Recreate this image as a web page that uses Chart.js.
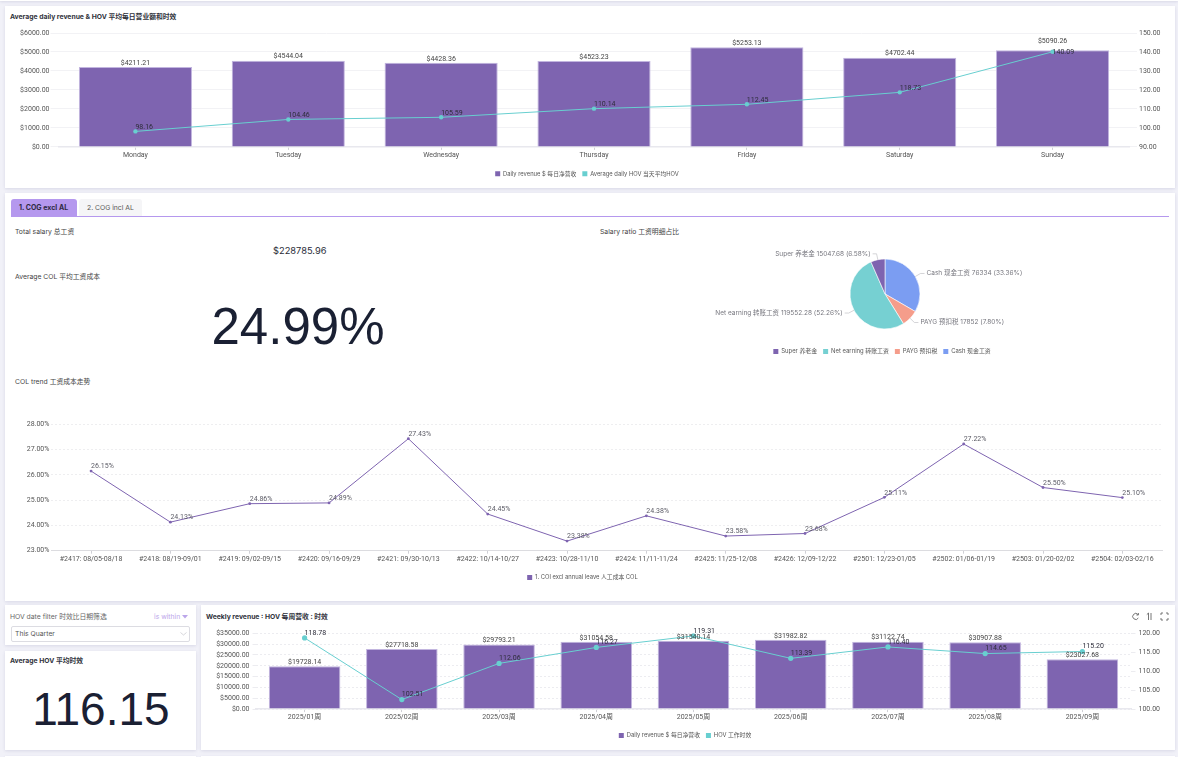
<!DOCTYPE html>
<html lang="en"><head><meta charset="utf-8"><title>Dashboard</title>
<script src="https://cdn.jsdelivr.net/npm/chart.js@4"></script>
<style>
html,body{margin:0;padding:0;width:1178px;height:757px;overflow:hidden;background:#f1f1f8;font-family:Inter,"Noto Sans CJK SC",sans-serif;color:#444}
.p{position:absolute;background:#fff;box-shadow:0 1px 3px rgba(90,90,140,.16)}
.t{position:absolute;white-space:nowrap;font-size:6.8px;line-height:10px}
.b{font-weight:700;color:#30323c}
.big{position:absolute;font-family:"Liberation Sans",sans-serif;color:#1a2033;white-space:nowrap;transform:translate(-50%,-50%);line-height:1}
canvas{position:absolute;display:block}
</style></head><body>
<div class="p" style="left:0;top:-8px;width:1178px;height:9px"></div>
<div class="p" style="left:5px;top:6px;width:1170px;height:182px"></div>
<div class="p" style="left:5px;top:193px;width:1170px;height:408px"></div>
<div class="p" style="left:5px;top:605px;width:191px;height:40px"></div>
<div class="p" style="left:5px;top:651px;width:191px;height:99px"></div>
<div class="p" style="left:201px;top:605px;width:974px;height:145px"></div>
<div class="p" style="left:5px;top:756px;width:191px;height:6px"></div>
<div class="p" style="left:201px;top:756px;width:974px;height:6px"></div>

<div class="t b" style="left:10px;top:12px">Average daily revenue &amp; HOV 平均每日营业额和时效</div>

<div style="position:absolute;left:11px;top:199px;width:66px;height:17px;background:#b598ee;border-radius:3px 3px 0 0"></div>
<div class="t b" style="left:19px;top:203px;font-size:7px;color:#2e2a44">1. COG excl AL</div>
<div style="position:absolute;left:79px;top:199px;width:63px;height:17px;background:#f5f5f7;border-radius:3px 3px 0 0"></div>
<div class="t" style="left:87px;top:203px;color:#555">2. COG incl AL</div>
<div style="position:absolute;left:11px;top:216px;width:1158px;height:1px;background:#b598ee"></div>

<div class="t" style="left:15px;top:227px">Total salary 总工资</div>
<div class="t" style="left:273px;top:244px;font-size:9.3px;line-height:13px;color:#2a2c38">$228785.96</div>
<div class="t" style="left:15px;top:272px">Average COL 平均工资成本</div>
<div class="big" style="left:298px;top:326px;font-size:51px">24.99%</div>
<div class="t" style="left:600px;top:227px">Salary ratio 工资明细占比</div>
<div class="t" style="left:15px;top:377px">COL trend 工资成本走势</div>

<div class="t" style="left:10px;top:612px;color:#666">HOV date filter 时效比日期筛选</div>
<div class="t" style="left:154px;top:612px;color:#bba6ea">is within</div>
<svg style="position:absolute;left:182px;top:615px" width="6" height="4"><path d="M0 0H6L3 3.5Z" fill="#bba6ea"/></svg>
<div style="position:absolute;left:11px;top:626px;width:177px;height:14px;border:1px solid #dcdce2;border-radius:2px"></div>
<div class="t" style="left:15px;top:629px;color:#555">This Quarter</div>
<svg style="position:absolute;left:180px;top:632px" width="7" height="4"><path d="M.5 .5L3.5 3L6.5 .5" fill="none" stroke="#c4c4cc" stroke-width=".7"/></svg>
<div class="t b" style="left:10px;top:656px">Average HOV 平均时效</div>
<div class="big" style="left:101px;top:709px;font-size:46px">116.15</div>
<div class="t b" style="left:206px;top:612px">Weekly revenue : HOV 每周营收 : 时效</div>
<svg style="position:absolute;left:1131px;top:612px" width="40" height="9" fill="none" stroke="#666" stroke-width=".9">
<path d="M7 2.5A3 3 0 1 0 7.3 6M7.4 1V3H5.4"/><path d="M17.5 8V1L15.8 2.6M20 1V8"/><path d="M30 3V1H32M35 1H37V3M37 6V8H35M32 8H30V6"/></svg>

<canvas id="dailyChart" width="1170" height="182" style="left:5px;top:6px"></canvas>
<canvas id="pieChart" width="370" height="140" style="left:700px;top:225px"></canvas>
<canvas id="colChart" width="1170" height="200" style="left:5px;top:400px"></canvas>
<canvas id="weeklyChart" width="974" height="145" style="left:201px;top:605px"></canvas>

<script>
// ---- data ----
const dayLabels = ['Monday','Tuesday','Wednesday','Thursday','Friday','Saturday','Sunday'];
const dayRevenue = [4211.21,4544.04,4428.36,4523.23,5253.13,4702.44,5090.26];
const dayHov = [98.16,104.46,105.59,110.14,112.45,118.73,140.09];

const pieLabels = ['Cash 现金工资','PAYG 预扣税','Net earning 转账工资','Super 养老金'];
const pieValues = [76334,17852,119552.28,15047.68];
const piePercents = ['33.36%','7.80%','52.26%','6.58%'];

const colLabels = ['#2417: 08/05-08/18','#2418: 08/19-09/01','#2419: 09/02-09/15','#2420: 09/16-09/29','#2421: 09/30-10/13','#2422: 10/14-10/27','#2423: 10/28-11/10','#2424: 11/11-11/24','#2425: 11/25-12/08','#2426: 12/09-12/22','#2501: 12/23-01/05','#2502: 01/06-01/19','#2503: 01/20-02/02','#2504: 02/03-02/16'];
const colValues = [26.15,24.13,24.86,24.89,27.43,24.45,23.38,24.38,23.58,23.68,25.11,27.22,25.50,25.10];

const weekLabels = ['2025/01周','2025/02周','2025/03周','2025/04周','2025/05周','2025/06周','2025/07周','2025/08周','2025/09周'];
const weekRevenue = [19728.14,27718.58,29793.21,31054.58,31540.14,31982.82,31122.74,30907.88,23027.68];
const weekHov = [118.78,102.51,112.06,116.27,119.31,113.39,116.40,114.65,115.20];

// ---- styles ----
const PURPLE='#7e64b0', TEAL='#68cfd0', FONT='Inter,"Noto Sans CJK SC",sans-serif';
const NUMFONT='Roboto,"Noto Sans CJK SC",sans-serif';
Chart.defaults.animation=false;
Chart.defaults.responsive=false;
Chart.defaults.font.family=FONT;
Chart.defaults.font.size=7;

const valueLabels={id:'valueLabels',afterDatasetsDraw(chart){
  const ctx=chart.ctx;
  chart.data.datasets.forEach((ds,i)=>{
    const o=ds.valueLabel; if(!o) return;
    chart.getDatasetMeta(i).data.forEach((el,j)=>{
      const n=(o.nudge&&o.nudge[j])||[0,0];
      ctx.save();
      ctx.font='7px '+NUMFONT;
      ctx.fillStyle=o.color;
      ctx.textBaseline='middle';
      ctx.textAlign=o.align;
      ctx.fillText(o.fmt(ds.data[j]),el.x+n[0],el.y-(o.dy||4)+n[1]);
      ctx.restore();
    });
  });
}};
const legendShift={id:'legendShift',afterLayout(chart,args,opts){
  const l=chart.legend; if(!l) return;
  l.left+=opts.dx||0; l.right+=opts.dx||0; l.top+=opts.dy||0; l.bottom+=opts.dy||0;
}};
const pieCallouts={id:'pieCallouts',afterDatasetsDraw(chart){
  const ctx=chart.ctx, arcs=chart.getDatasetMeta(0).data;
  arcs.forEach((a,i)=>{
    const m=(a.startAngle+a.endAngle)/2, r=a.outerRadius;
    const cos=Math.cos(m), sin=Math.sin(m), right=cos>=0;
    const x0=a.x+cos*r, y0=a.y+sin*r, x1=a.x+cos*(r+6), y1=a.y+sin*(r+6), x2=x1+(right?4:-4);
    ctx.save();
    ctx.strokeStyle='#b8b8be'; ctx.lineWidth=.6;
    ctx.beginPath(); ctx.moveTo(x0,y0); ctx.lineTo(x1,y1); ctx.lineTo(x2,y1); ctx.stroke();
    ctx.font='6.5px '+FONT; ctx.fillStyle='#77777f'; ctx.textBaseline='middle';
    ctx.textAlign=right?'left':'right';
    ctx.fillText(pieLabels[i]+' '+pieValues[i]+' ('+piePercents[i]+')',x2+(right?2:-2),y1);
    ctx.restore();
  });
}};
const noStroke=base=>chart=>base(chart).map(x=>Object.assign(x,{lineWidth:0}));
const legendOpts=(extra)=>Object.assign({display:true,position:'bottom',labels:{boxWidth:5,boxHeight:5,padding:6,color:'#555',font:{size:5.8},sort:(a,b)=>a.datasetIndex-b.datasetIndex,generateLabels:noStroke(Chart.defaults.plugins.legend.labels.generateLabels)}},extra||{});
const money=v=>'$'+v.toFixed(2), two=v=>v.toFixed(2), pct=v=>v.toFixed(2)+'%';

function xAxis(h,borderColor,bw){return {offset:true,afterFit:s=>{s.height=h},
  grid:{offset:false,drawOnChartArea:false,drawTicks:true,tickLength:3,tickColor:'#d0d0d6'},
  border:{color:borderColor,width:bw},ticks:{color:'#555',padding:1,autoSkip:false,maxRotation:0,font:{family:NUMFONT,size:7}}};}
function yAxis(pos,w,min,max,step,fmt,tick,pad,onArea,dash,gridColor){return {position:pos,min,max,afterFit:s=>{s.width=w},
  grid:{drawOnChartArea:onArea,color:gridColor,tickColor:gridColor,tickLength:tick},
  border:{display:false,dash:dash},
  ticks:{stepSize:step,autoSkip:false,color:'#555',padding:pad,callback:fmt,font:{family:NUMFONT,size:7}}};}

function comboChart(id,labels,bars,line,barName,lineName,cfg){
  new Chart(document.getElementById(id),{type:'bar',plugins:[valueLabels,legendShift],data:{labels,datasets:[
    {type:'bar',order:2,label:barName,data:bars,yAxisID:'y',backgroundColor:PURPLE,borderColor:'#c2b5df',borderWidth:1,barPercentage:cfg.bp,categoryPercentage:1,valueLabel:{fmt:money,align:'center',color:'#444',dy:4,nudge:cfg.barNudge}},
    {type:'line',order:1,label:lineName,data:line,yAxisID:'y2',borderColor:TEAL,backgroundColor:TEAL,borderWidth:1,tension:0,pointRadius:cfg.pr,pointBackgroundColor:TEAL,pointBorderWidth:0,valueLabel:{fmt:two,align:'left',color:'#2d2d3a',dy:cfg.ldy,nudge:cfg.lineNudge}}
  ]},
  options:{layout:{padding:{top:cfg.top,bottom:0,left:0,right:0}},
    plugins:{legend:legendOpts(),legendShift:{dx:cfg.dx,dy:cfg.dy},tooltip:{enabled:false}},
    scales:{x:xAxis(cfg.xh,'#e8e8ee',1.5),y:cfg.y,y2:cfg.y2}}});
}

comboChart('dailyChart',dayLabels,dayRevenue,dayHov,'Daily revenue $ 每日净营收','Average daily HOV 当天平均HOV',{
  pr:2.2,bp:.74,top:27,xh:19.3,dx:-3,dy:-1.3,ldy:4,barNudge:{6:[0,-5]},lineNudge:{6:[0,4]},
  y:yAxis('left',54,0,6000,1000,v=>'$'+Number(v).toFixed(2),8.5,1,true,undefined,'#f2f2f5'),
  y2:yAxis('right',46,90,150,10,v=>Number(v).toFixed(2),8,2,false,undefined,'#f2f2f5')});

new Chart(document.getElementById('pieChart'),{type:'pie',plugins:[pieCallouts,legendShift],
  data:{labels:pieLabels,datasets:[{data:pieValues,backgroundColor:['#7b9df2','#f59d8b','#76d0d2','#7e64b0'],borderColor:'#fff',borderWidth:.6}]},
  options:{radius:35,layout:{padding:{top:19.8,bottom:0}},
    plugins:{legend:legendOpts({reverse:true,labels:{boxWidth:5,boxHeight:5,padding:6,color:'#555',font:{size:5.9},generateLabels:noStroke(Chart.overrides.pie.plugins.legend.labels.generateLabels)}}),legendShift:{dx:-3,dy:-.5},tooltip:{enabled:false}}}});

new Chart(document.getElementById('colChart'),{type:'line',plugins:[valueLabels,legendShift],
  data:{labels:colLabels,datasets:[{label:'1. COl excl annual leave 人工成本 COL',data:colValues,borderColor:PURPLE,backgroundColor:PURPLE,borderWidth:1,tension:0,pointRadius:1.4,pointBackgroundColor:PURPLE,pointBorderWidth:0,valueLabel:{fmt:pct,align:'left',color:'#5c5c66',dy:4.5}}]},
  options:{layout:{padding:{top:24.3,bottom:0,right:13}},
    plugins:{legend:legendOpts(),legendShift:{dx:-1,dy:-9.5},tooltip:{enabled:false}},
    scales:{x:xAxis(27.5,'#dcdce0',1),y:yAxis('left',46.4,23,28,1,v=>Number(v).toFixed(2)+'%',0,2,true,[2,2],'#eeeef0')}}});

comboChart('weeklyChart',weekLabels,weekRevenue,weekHov,'Daily revenue $ 每日净营收','HOV 工作时效',{
  pr:2.6,bp:.736,top:28.3,xh:19.1,dx:-3,dy:-1.5,ldy:5,
  y:yAxis('left',55,0,35000,5000,v=>'$'+Number(v).toFixed(2),3.5,3,true,[2,2],'#ececf0'),
  y2:yAxis('right',44,100,120,5,v=>Number(v).toFixed(2),4.5,3,false,undefined,'#ececf0')});
</script>
</body></html>
